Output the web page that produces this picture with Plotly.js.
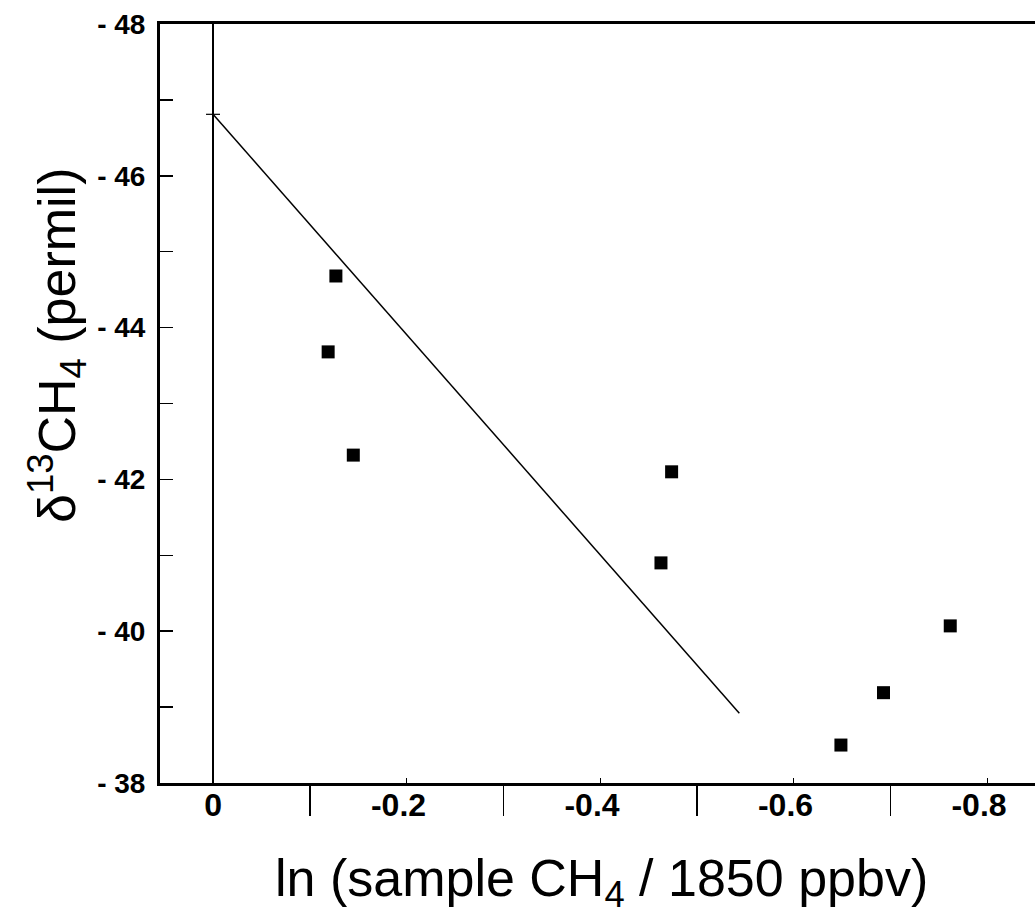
<!DOCTYPE html>
<html>
<head>
<meta charset="utf-8">
<script src="https://cdn.plot.ly/plotly-3.0.1.min.js"></script>
<style>html,body{margin:0;padding:0;background:#fff;}#chart{width:1035px;height:915px;}</style>
</head>
<body>
<div id="chart"></div>
<script>
// Sample points: ln(sample CH4 / 1850 ppbv) vs delta13CH4 (permil)
const sampleX = [-0.127, -0.119, -0.145, -0.474, -0.463, -0.762, -0.693, -0.649];
const sampleY = [-44.68, -43.68, -42.32, -42.10, -40.90, -40.07, -39.19, -38.50];

// Fitted line end points
const fitX = [0, -0.544];
const fitY = [-46.81, -38.92];

// Axis ticks
const xTickVals = [0, -0.2, -0.4, -0.6, -0.8];
const xTickText = ["0", "-0.2\u2002", "-0.4\u2002", "-0.6\u2002", "-0.8\u2002"];
const xMinorVals = [-0.1, -0.3, -0.5, -0.7];
const yTickVals = [-48, -46, -44, -42, -40, -38];
const yTickText = ["- 48", "- 46", "- 44", "- 42", "- 40", "- 38"];
const yMinorVals = [-47, -45, -43, -41, -39];

const FONT = "Liberation Sans, Arial, Helvetica, sans-serif";
const X_RANGE = [0.0548, -0.8496];
const Y_RANGE = [-38, -48];

const traces = [
  {
    x: fitX, y: fitY, mode: "lines", type: "scatter",
    line: {color: "#000", width: 1.5}, hoverinfo: "skip", showlegend: false
  },
  {
    x: [fitX[0]], y: [fitY[0]], mode: "markers", type: "scatter",
    marker: {symbol: "line-ew-open", size: 10, color: "#000", line: {width: 1.2, color: "#000"}},
    showlegend: false
  },
  {
    x: sampleX, y: sampleY, mode: "markers", type: "scatter",
    marker: {symbol: "square", size: 13, color: "#000"}, showlegend: false
  },
  {x: [], y: [], xaxis: "x2", yaxis: "y2", type: "scatter", mode: "markers", showlegend: false, hoverinfo: "skip"}
];

const layout = {
  width: 1035, height: 915,
  margin: {l: 160, r: 0, t: 24, b: 132},
  paper_bgcolor: "#fff", plot_bgcolor: "#fff",
  showlegend: false,
  xaxis: {
    range: X_RANGE,
    showgrid: false,
    zeroline: true, zerolinecolor: "#000", zerolinewidth: 1.5,
    showline: true, linecolor: "#000", linewidth: 3, mirror: true,
    tickmode: "array", tickvals: xTickVals, ticktext: xTickText,
    ticks: "inside", ticklen: 5, tickwidth: 1, tickcolor: "#000",
    ticklabelstandoff: -8,
    tickfont: {family: FONT, size: 32, color: "#000", weight: "bold"},
    fixedrange: true
  },
  xaxis2: {
    overlaying: "x", side: "bottom", anchor: "y", matches: "x",
    range: X_RANGE, showgrid: false, zeroline: false, showline: false,
    tickmode: "array", tickvals: xMinorVals, showticklabels: false,
    ticks: "outside", ticklen: 32, tickwidth: 1.5, tickcolor: "#000",
    fixedrange: true
  },
  yaxis: {
    range: Y_RANGE,
    showgrid: false, zeroline: false,
    showline: true, linecolor: "#000", linewidth: 3, mirror: false,
    tickmode: "array", tickvals: yTickVals, ticktext: yTickText,
    ticks: "inside", ticklen: 13, tickwidth: 1.5, tickcolor: "#000",
    ticklabelstandoff: 6,
    tickfont: {family: FONT, size: 28, color: "#000", weight: "bold"},
    fixedrange: true
  },
  yaxis2: {
    overlaying: "y", side: "left", anchor: "x", matches: "y",
    range: Y_RANGE, showgrid: false, zeroline: false, showline: false,
    tickmode: "array", tickvals: yMinorVals, showticklabels: false,
    ticks: "inside", ticklen: 13, tickwidth: 1.5, tickcolor: "#000",
    fixedrange: true
  },
  annotations: [
    {
      xref: "paper", yref: "paper",
      x: (57 - 160) / 875, y: (783 - 346) / 759,
      xanchor: "center", yanchor: "middle",
      text: "δ<sup>13</sup>CH<sub>4</sub> (permil)",
      textangle: -90, showarrow: false,
      font: {family: FONT, size: 52, color: "#000"}
    },
    {
      xref: "paper", yref: "paper",
      x: (601 - 160) / 875, y: (783 - 882) / 759,
      xanchor: "center", yanchor: "middle",
      text: "ln (sample CH<sub>4</sub> / 1850 ppbv)",
      showarrow: false,
      font: {family: FONT, size: 52, color: "#000"}
    }
  ]
};

Plotly.newPlot("chart", traces, layout, {displayModeBar: false, staticPlot: true});
</script>
</body>
</html>
